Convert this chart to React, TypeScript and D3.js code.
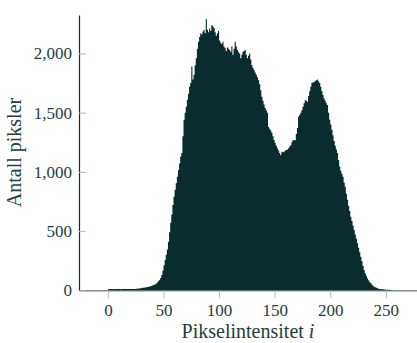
import React, { useRef, useEffect } from 'react';
import * as d3 from 'd3';

// pixel intensity histogram, counts per intensity 0..255
const counts: number[] = [
  // 0-25
  9, 11, 10, 12, 10, 9, 11, 10, 12, 11, 10, 9, 11, 12, 10, 11, 10, 12, 11, 10, 12, 11, 12, 11, 12, 13,
  // 26-42
  13, 15, 16, 18, 19, 21, 22, 24, 26, 28, 30, 32, 35, 38, 42, 46, 50,
  // 43-65
  58, 66, 76, 88, 104, 130, 165, 210, 255, 300, 345, 410, 490, 570, 640, 720, 790, 850, 905, 960, 1015, 1070, 1130,
  // 66-99
  1160, 1300, 1440, 1500, 1550, 1610, 1660, 1720, 1750, 1890, 1780, 1820, 1900, 1960, 2040, 2100, 2140,
  2170, 2160, 2185, 2200, 2170, 2290, 2200, 2180, 2210, 2190, 2240, 2230, 2215, 2180, 2150, 2170, 2190,
  // 100-143
  2110, 2090, 2080, 2100, 2060, 2045, 2020, 2050, 2040, 2030, 2015, 2060, 1990, 2040, 2100, 2060, 2030,
  2010, 2000, 1960, 1990, 2015, 2020, 2030, 1990, 1960, 1980, 2000, 1950, 1900, 1880, 1860, 1840, 1820,
  1800, 1775, 1740, 1690, 1635, 1600, 1570, 1540, 1520, 1500,
  // 144-199
  1380, 1365, 1350, 1330, 1300, 1270, 1245, 1220, 1200, 1180, 1160, 1140, 1170, 1165, 1170, 1180, 1185,
  1190, 1200, 1215, 1225, 1250, 1270, 1265, 1270, 1320, 1370, 1465, 1480, 1500, 1520, 1550, 1580, 1605,
  1600, 1590, 1640, 1680, 1720, 1750, 1755, 1760, 1770, 1775, 1780, 1765, 1750, 1720, 1680, 1650, 1620,
  1600, 1580, 1565, 1500, 1440,
  // 200-255
  1400, 1355, 1310, 1260, 1220, 1190, 1160, 1100, 1045, 1010, 985, 960, 910, 875, 815, 765, 715, 670,
  622, 585, 548, 510, 472, 435, 397, 360, 322, 284, 246, 208, 171, 145, 122, 101, 85, 70, 59, 48, 38,
  30, 25, 21, 17, 14, 12, 10, 9, 8, 7, 6, 5, 5, 4, 4, 3, 3,
];

const xTicks = [0, 50, 100, 150, 200, 250];
const yTicks = [0, 500, 1000, 1500, 2000];
const xLabel = 'Pikselintensitet ';
const yLabel = 'Antall piksler';

const width = 417;
const height = 343;
const FONT = '"Liberation Serif", "Times New Roman", serif';
const TEXT = '#243d3d';
const BAR = '#0b2c2f';

const Histogram = () => {
  const svgRef = useRef<SVGSVGElement>(null);

  useEffect(() => {
    const svg = d3.select(svgRef.current);
    svg.selectAll('*').remove();

    const x = d3.scaleLinear().domain([-26, 278]).range([79, 417]);
    const y = d3.scaleLinear().domain([0, 2325]).range([290.3, 15]);

    // x axis (grey line, ticks pointing down)
    const xAxis = d3.axisBottom(x)
      .tickValues(xTicks)
      .tickFormat(d3.format('d'))
      .tickSizeInner(8)
      .tickSizeOuter(0)
      .tickPadding(6);

    const gx = svg.append('g')
      .attr('transform', `translate(0,${y(0)})`)
      .call(xAxis);
    gx.select('.domain').attr('stroke', '#7d8b8b').attr('stroke-width', 1.4);
    gx.selectAll('.tick line').attr('stroke', '#b3b9b9');
    gx.selectAll('.tick text')
      .attr('fill', TEXT)
      .style('font-family', FONT)
      .style('font-size', '17px');

    // bars: one bin per intensity, drawn as a step outline so neighbours don't leave seams
    const bins = counts.map((c, i) => ({ i, c }));
    bins.push({ i: counts.length, c: counts[counts.length - 1] });
    const area = d3.area<{ i: number; c: number }>()
      .x(d => x(d.i))
      .y0(y(0))
      .y1(d => y(d.c))
      .curve(d3.curveStepAfter);

    svg.append('path')
      .datum(bins)
      .attr('d', area)
      .attr('fill', BAR);

    // y axis (dark line, ticks pointing inwards)
    const yAxis = d3.axisLeft(y)
      .tickValues(yTicks)
      .tickFormat(d3.format(','))
      .tickSizeInner(-7)
      .tickSizeOuter(0)
      .tickPadding(7);

    const gy = svg.append('g')
      .attr('transform', `translate(${x(-26)},0)`)
      .call(yAxis);
    gy.select('.domain').attr('stroke', '#102f31').attr('stroke-width', 1.2);
    gy.selectAll('.tick line').attr('stroke', '#b3b9b9');
    gy.selectAll('.tick text')
      .attr('fill', TEXT)
      .style('font-family', FONT)
      .style('font-size', '17px');

    // axis titles
    const xt = svg.append('text')
      .attr('x', (79 + 417) / 2)
      .attr('y', 338)
      .attr('text-anchor', 'middle')
      .attr('fill', TEXT)
      .style('font-family', FONT)
      .style('font-size', '20px')
      .text(xLabel);
    xt.append('tspan').style('font-style', 'italic').text('i');

    svg.append('text')
      .attr('transform', `translate(21,${(15 + 290) / 2}) rotate(-90)`)
      .attr('text-anchor', 'middle')
      .attr('fill', TEXT)
      .style('font-family', FONT)
      .style('font-size', '20px')
      .text(yLabel);
  }, []);

  return (
    <svg
      ref={svgRef}
      width={width}
      height={height}
      style={{ position: 'absolute', left: 0, top: 0, background: '#fff' }}
    />
  );
};

export default function App() {
  return <Histogram />;
}
